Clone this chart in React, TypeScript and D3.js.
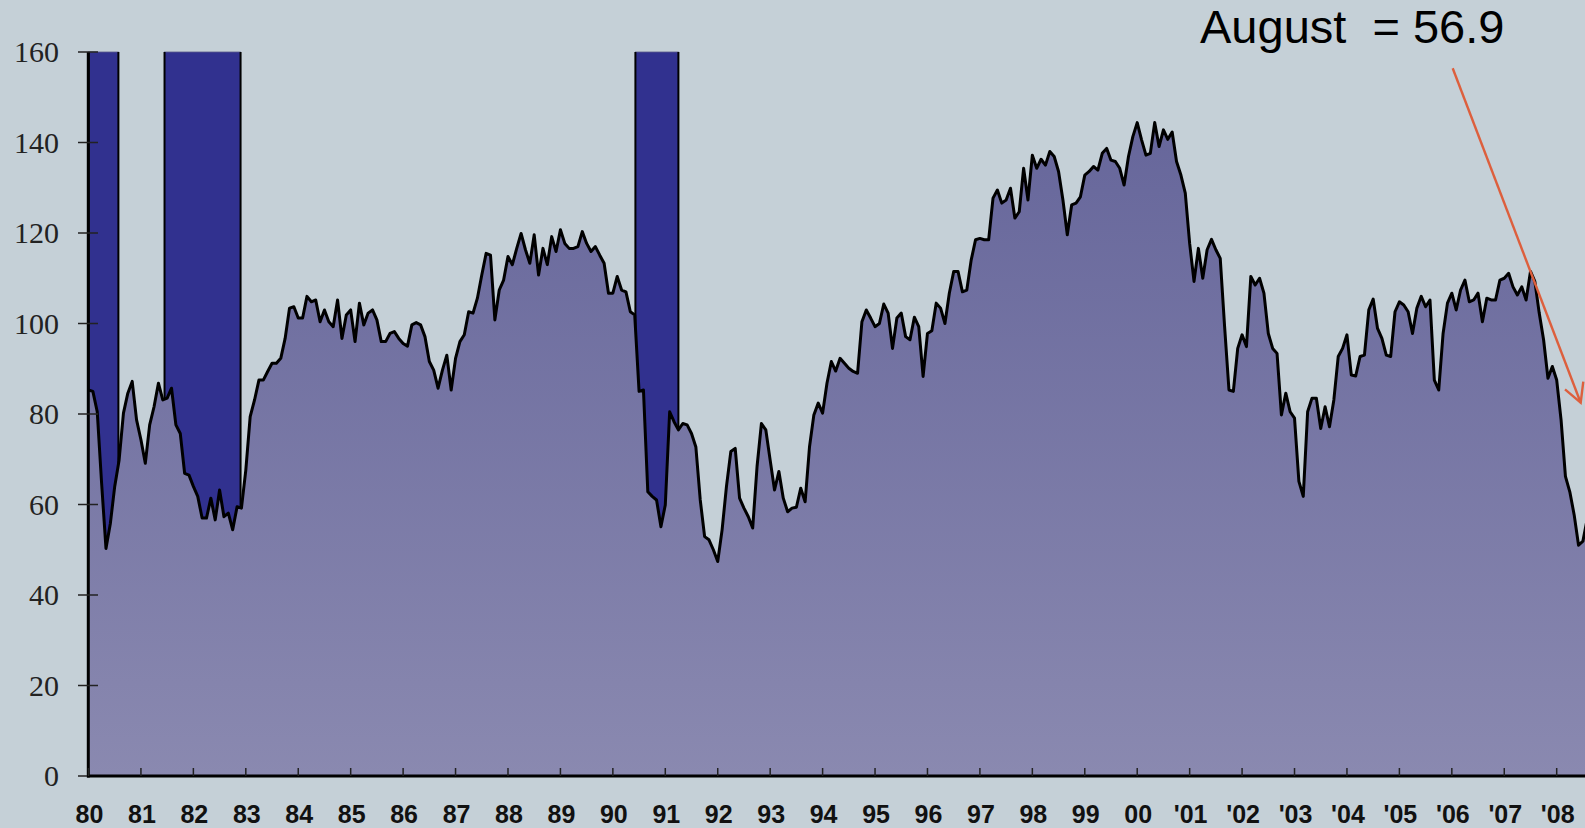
import React from "react";
import * as d3 from "d3";

// Monthly index values (Jan 1980 onward)
const values1980s: number[] = [
  85.3, 85, 80.5, 64.7, 50.3, 55.8, 64, 69.8, 80.2, 84.6, 87.2, 78.7,
  74.3, 69.1, 77.6, 81.6, 86.8, 83.1, 83.5, 85.7, 77.6, 75.7, 66.9, 66.5,
  64, 61.8, 57, 57, 61.4, 56.6, 63.2, 57.3, 58.1, 54.4, 59.5, 59.2,
  67.6, 79.4, 83.1, 87.5, 87.5, 89.4, 91.2, 91.2, 92.3, 96.7, 103.4, 103.7,
  101.2, 101.2, 106, 104.8, 105.2, 100.4, 103, 100.4, 99.3, 105.2, 96.7, 101.9,
  103, 96, 104.5, 99.7, 102.3, 103, 100.8, 96, 96, 97.8, 98.2, 96.7,
  95.6, 95, 99.7, 100.2, 99.7, 97.1, 91.6, 89.7, 85.7, 89.7, 93, 85.3,
  92.3, 96, 97.5, 102.6, 102.3, 105.6, 110.7, 115.5, 115.1, 100.8, 107.4, 109.6,
  114.8, 113, 116.6, 119.9, 116.3, 113.3, 119.6, 110.7, 116.6, 113, 119.2, 115.9,
  120.7, 117.7, 116.6, 116.6, 117, 120.3, 117.7, 115.9, 117, 115.1, 113.3, 106.7,
];
const values1990s: number[] = [
  106.7, 110.4, 107.4, 107, 102.6, 101.9, 85, 85.3, 62.8, 61.8, 61, 55.1,
  59.9, 80.5, 78.3, 76.5, 77.9, 77.6, 75.7, 72.7, 61, 52.9, 52.2, 50,
  47.4, 54.4, 64, 71.7, 72.4, 61.4, 59.2, 57.3, 54.8, 68.4, 77.9, 76.5,
  69.8, 63.2, 67.3, 61.4, 58.4, 59.2, 59.4, 63.6, 60.6, 72.7, 79.8, 82.4,
  80.2, 86.8, 91.6, 89.5, 92.3, 91.2, 90.1, 89.4, 89, 100.4, 103, 101.2,
  99.3, 100, 104.3, 102.3, 94.5, 101.2, 102.3, 97.1, 96.4, 101.4, 99.3, 88.3,
  97.8, 98.4, 104.5, 103.4, 100, 106.7, 111.5, 111.5, 107, 107.4, 114, 118.5,
  118.8, 118.5, 118.5, 127.7, 129.5, 126.6, 127.3, 129.9, 123.3, 124.7, 134.3, 127.3,
  137.2, 134.3, 136.3, 135, 138, 136.9, 133.6, 127.3, 119.6, 126.2, 126.6, 128,
  132.8, 133.6, 134.7, 133.9, 137.6, 138.7, 136.1, 135.8, 134.3, 130.6, 136.9, 141.3,
];
const values2000s: number[] = [
  144.4, 140.6, 137.2, 137.6, 144.4, 139.1, 142.8, 140.7, 142.3, 135.8, 132.8, 128.8,
  117.7, 109.3, 116.6, 110, 116.3, 118.6, 116.3, 114.4, 99.3, 85.3, 85, 94.5,
  97.5, 94.9, 110.4, 108.5, 110, 106.7, 97.8, 94.5, 93.4, 79.8, 84.6, 80.5,
  79.1, 65.1, 61.8, 80.5, 83.5, 83.5, 76.8, 81.6, 77.2, 83.1, 92.7, 94.5,
  97.5, 88.6, 88.4, 92.7, 93, 103, 105.4, 98.9, 96.7, 93, 92.7, 102.6,
  104.8, 104.1, 102.6, 97.8, 103.4, 106, 103.7, 105.2, 87.5, 85.3, 97.8, 104.5,
  106.7, 103, 107.4, 109.6, 104.8, 105.2, 106.7, 100.4, 105.6, 105.2, 105.2, 109.6,
  110, 111.1, 108.1, 106.3, 108.1, 105.2, 111.5, 109.3, 102.3, 96.4, 87.9, 90.5,
  87.5, 78.7, 66.2, 62.8, 57.7, 51.0, 51.9, 56.9,
];

const startYear = 1980;
const recessionStarts: number[] = [1980.0, 1981.45, 1990.43];
const recessionEnds: number[] = [1980.57, 1982.9, 1991.25];

const yTicks: number[] = [0, 20, 40, 60, 80, 100, 120, 140, 160];
const xTickYears: number[] = d3.range(1980, 2009);
const xTickLabels: string[] = [
  "80", "81", "82", "83", "84", "85", "86", "87", "88", "89",
  "90", "91", "92", "93", "94", "95", "96", "97", "98", "99",
  "00", "'01", "'02", "'03", "'04", "'05", "'06", "'07", "'08",
];
const annotation = "August  = 56.9";

export default function App() {
  const W = 1585;
  const H = 828;
  const values = [...values1980s, ...values1990s, ...values2000s];
  const data = values.map((v, i) => ({ t: startYear + i / 12, v }));

  const x = d3.scaleLinear().domain([1980, 2008]).range([88.5, 1556.7]);
  const y = d3.scaleLinear().domain([0, 160]).range([776, 52]);

  const area = d3
    .area<{ t: number; v: number }>()
    .x((d) => x(d.t))
    .y0(y(0))
    .y1((d) => y(d.v));
  const line = d3
    .line<{ t: number; v: number }>()
    .x((d) => x(d.t))
    .y((d) => y(d.v));

  const tipX = 1580.7;
  const tipY = 402.7;

  return (
    <div style={{ position: "absolute", left: 0, top: 0 }}>
      <svg width={W} height={H} style={{ display: "block", background: "#c5d0d7" }}>
        <defs>
          <linearGradient id="areaGrad" gradientUnits="userSpaceOnUse" x1="0" y1={y(150)} x2="0" y2={y(0)}>
            <stop offset="0" stopColor="#65659a" />
            <stop offset="1" stopColor="#8a89b0" />
          </linearGradient>
          <clipPath id="plotClip">
            <rect x={0} y={0} width={W} height={H} />
          </clipPath>
        </defs>
        <rect x={0} y={0} width={W} height={H} fill="#c5d0d7" />

        {/* recession bars */}
        {recessionStarts.map((s, i) => (
          <g key={"r" + i}>
            <rect
              x={x(s)}
              y={y(160)}
              width={x(recessionEnds[i]) - x(s)}
              height={y(0) - y(160)}
              fill="#31318f"
              stroke="#5a5a8a"
              strokeWidth={0.8}
            />
            <line x1={x(s)} x2={x(s)} y1={y(160)} y2={y(0)} stroke="#000" strokeWidth={2} />
            <line
              x1={x(recessionEnds[i])}
              x2={x(recessionEnds[i])}
              y1={y(160)}
              y2={y(0)}
              stroke="#000"
              strokeWidth={2}
            />
          </g>
        ))}

        <g clipPath="url(#plotClip)">
          <path d={area(data) || ""} fill="url(#areaGrad)" />
          <path d={line(data) || ""} fill="none" stroke="#000" strokeWidth={3} strokeLinejoin="round" />
        </g>

        {/* y axis */}
        <line x1={88.3} x2={88.3} y1={y(160)} y2={y(0) + 1.5} stroke="#000" strokeWidth={3} />
        {yTicks.map((t) => (
          <g key={"yt" + t}>
            <line x1={78} x2={98} y1={y(t)} y2={y(t)} stroke="#222" strokeWidth={1.5} />
            <text
              x={59}
              y={y(t) + 10}
              textAnchor="end"
              fontFamily="'Liberation Serif', 'Times New Roman', serif"
              fontSize={30}
              fill="#222"
            >
              {t}
            </text>
          </g>
        ))}

        {/* x axis */}
        <line x1={87} x2={W} y1={y(0)} y2={y(0)} stroke="#000" strokeWidth={3} />
        {xTickYears.map((yr, i) => (
          <g key={"xt" + yr}>
            <line x1={x(yr)} x2={x(yr)} y1={y(0) - 8} y2={y(0)} stroke="#222" strokeWidth={1.5} />
            <text
              x={x(yr) + 1}
              y={823}
              textAnchor="middle"
              fontFamily="'Liberation Sans', Arial, sans-serif"
              fontWeight="bold"
              fontSize={25}
              fill="#111"
            >
              {xTickLabels[i]}
            </text>
          </g>
        ))}

        {/* annotation */}
        <text
          x={1200}
          y={43}
          fontFamily="'Liberation Sans', Arial, sans-serif"
          fontSize={47}
          fill="#000"
          style={{ whiteSpace: "pre" }}
        >
          {annotation}
        </text>
        <line x1={1452.7} y1={68.3} x2={tipX} y2={tipY} stroke="#dd5f3d" strokeWidth={2.4} />
        <polyline
          points={`1565,389.3 ${tipX},${tipY} 1583.3,381.7`}
          fill="none"
          stroke="#dd5f3d"
          strokeWidth={2.4}
        />
      </svg>
    </div>
  );
}
